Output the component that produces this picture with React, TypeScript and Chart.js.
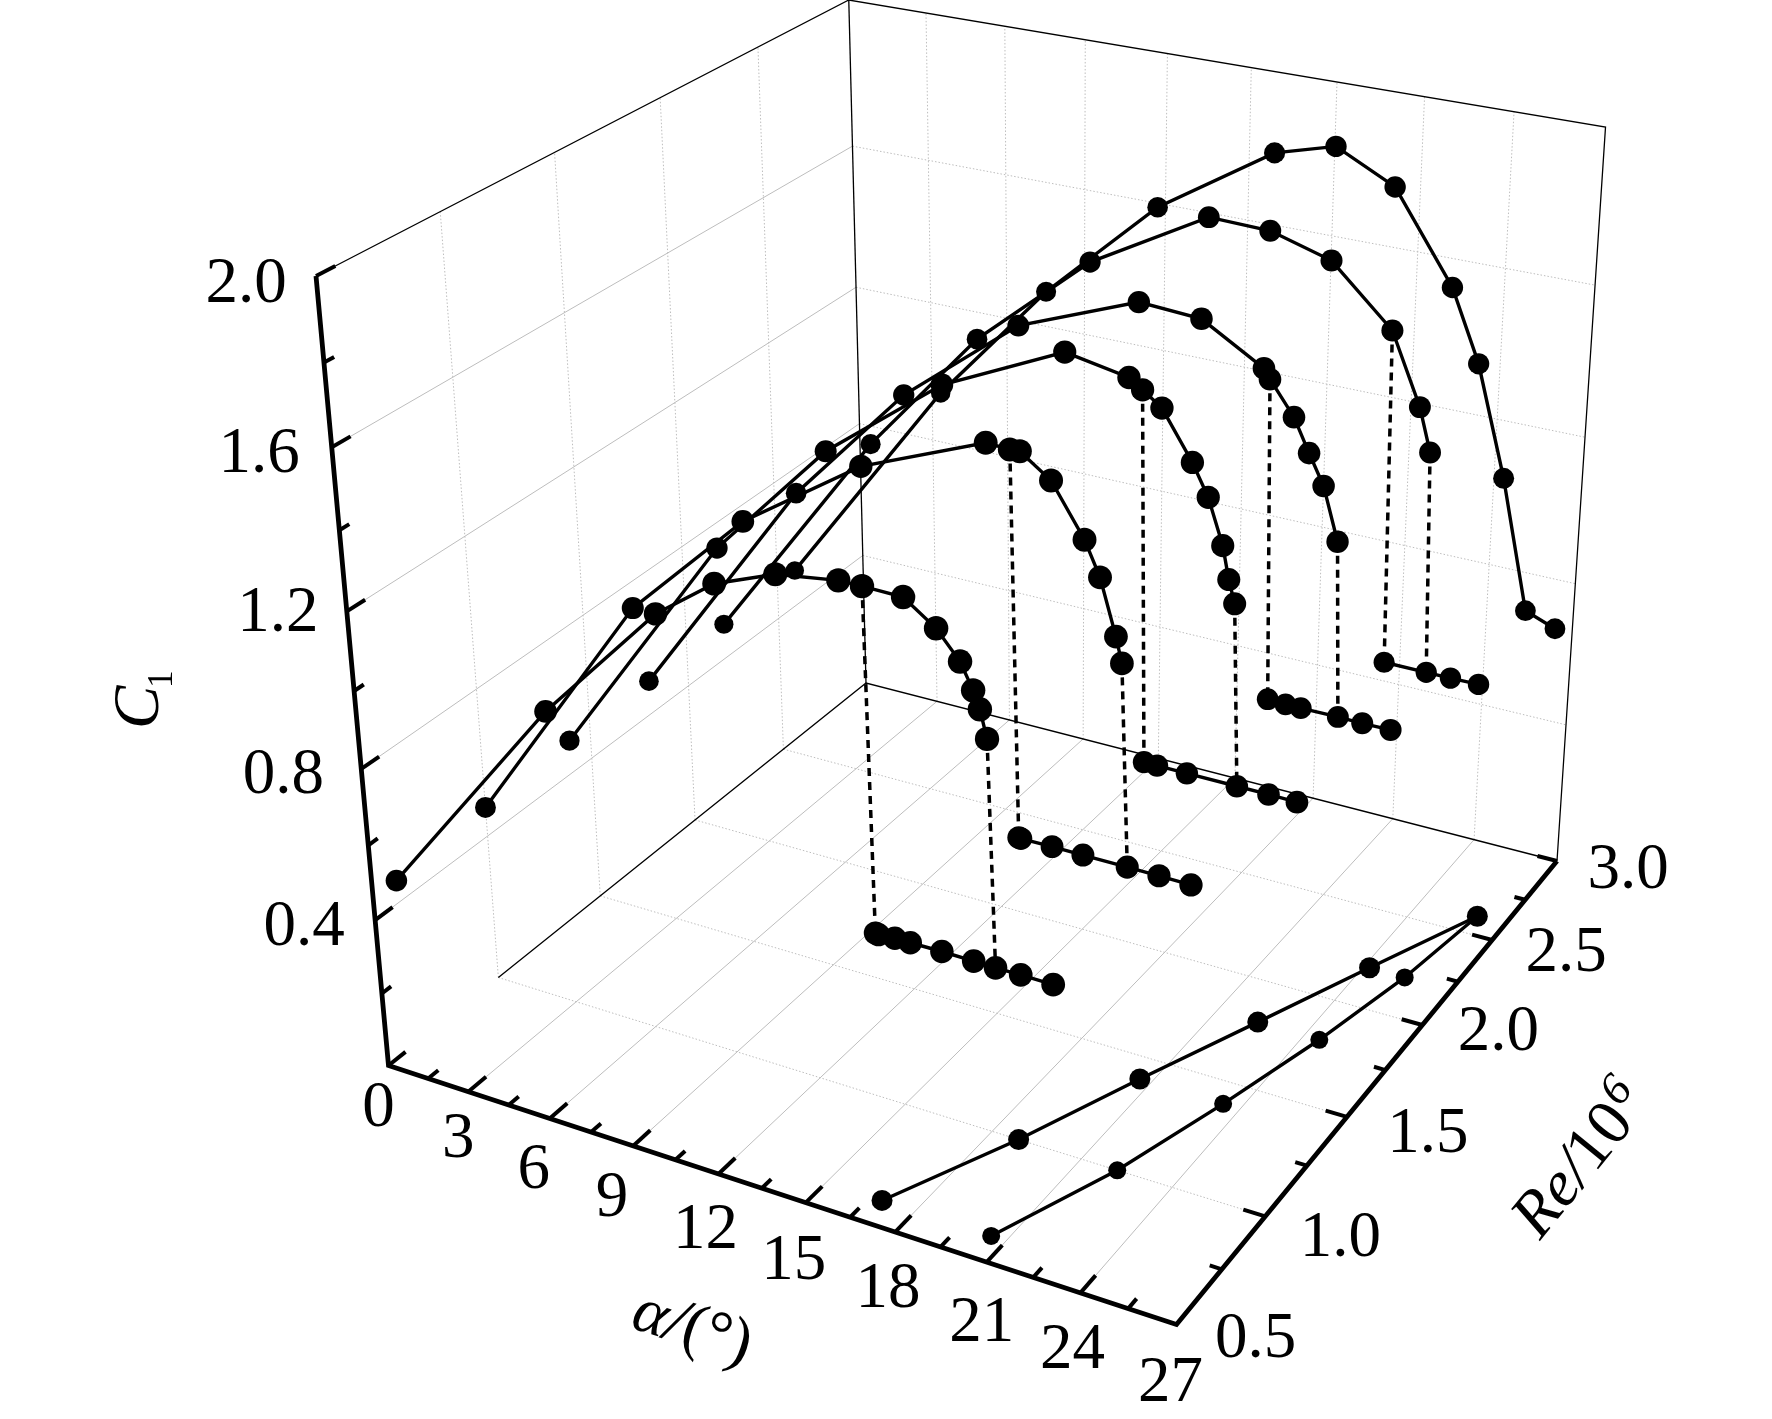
import React, { useEffect, useRef } from "react";
import { Chart, registerables } from "chart.js";
Chart.register(...registerables);

// ---------- data (α in degrees, Re/10^6, Cl) ----------
const RE = [0.6, 1.0, 1.4, 1.8, 2.2, 2.6];

const ALPHA_1 = [0, 6, 10, 12, 14, 16, 16.74, 18.01, 19.01, 19.73, 20.12, 20.32, 20.53];
const CL_1 = [0.46, 1.024, 1.339, 1.447, 1.505, 1.527, 1.527, 1.525, 1.472, 1.409, 1.35, 1.31, 1.245];
const ALPHA_2 = [0, 6, 10, 14, 18, 18.75, 19.06, 20.02, 21.05, 21.53, 22.03, 22.22];
const CL_2 = [0.479, 1.124, 1.411, 1.611, 1.732, 1.729, 1.73, 1.679, 1.56, 1.481, 1.351, 1.291];
const ALPHA_3 = [0, 6, 10, 14, 18, 20.03, 20.46, 21.07, 22.04, 22.55, 23.03, 23.24, 23.44];
const CL_3 = [0.492, 1.126, 1.441, 1.668, 1.808, 1.78, 1.758, 1.725, 1.613, 1.539, 1.432, 1.354, 1.299];
const ALPHA_4 = [0, 6, 10, 14, 18, 20.03, 22.05, 22.25, 23.04, 23.55, 24.04, 24.54];
const CL_4 = [0.495, 1.124, 1.446, 1.682, 1.799, 1.789, 1.701, 1.678, 1.599, 1.52, 1.448, 1.319];
const ALPHA_5 = [0, 6, 10, 14, 18, 20.03, 22.04, 24.07, 25.05, 25.44];
const CL_5 = [0.5, 1.115, 1.459, 1.716, 1.884, 1.879, 1.835, 1.694, 1.52, 1.413];
const ALPHA_6 = [0, 6, 10, 14, 18, 20.05, 22.05, 24.07, 25.05, 26.07, 27.04, 28.05];
const CL_6 = [0.505, 1.12, 1.458, 1.737, 1.929, 1.972, 1.898, 1.675, 1.496, 1.216, 0.881, 0.851];

const LOW_ALPHA_1 = [16.89, 16.99, 17.52, 18.02, 19.03, 20.04, 20.73, 21.52, 22.53];
const LOW_CL_1 = [0.697, 0.695, 0.698, 0.698, 0.699, 0.698, 0.697, 0.698, 0.697];
const LOW_ALPHA_2 = [18.96, 19.03, 20.04, 21.03, 22.44, 23.44, 24.44];
const LOW_CL_2 = [0.798, 0.797, 0.798, 0.798, 0.798, 0.798, 0.797];
const LOW_ALPHA_3 = [20.63, 21.06, 22.03, 23.64, 24.65, 25.55];
const LOW_CL_3 = [0.849, 0.849, 0.849, 0.849, 0.849, 0.848];
const LOW_ALPHA_4 = [22.45, 23.04, 23.54, 24.75, 25.54, 26.45];
const LOW_CL_4 = [0.88, 0.878, 0.878, 0.879, 0.878, 0.879];
const LOW_ALPHA_5 = [24.25, 25.65, 26.45, 27.37];
const LOW_CL_5 = [0.849, 0.849, 0.849, 0.85];

const STALL_START = [16.89, 18.9, 20.61, 22.41, 24.19, 26.01];
const STALL_END = [20.51, 22.2, 23.43, 24.52, 25.41, 26.01];

// which curve point / lower-branch point each dashed jump joins
const JUMPS = [
  [0, 6, 0], [0, 12, 6],
  [1, 5, 0], [1, 11, 4],
  [2, 6, 0], [2, 12, 3],
  [3, 7, 0], [3, 11, 3],
  [4, 7, 0], [4, 9, 1],
];

const ALPHA_LABELS = ["0", "3", "6", "9", "12", "15", "18", "21", "24", "27"];
const RE_LABELS = ["0.5", "1.0", "1.5", "2.0", "2.5", "3.0"];
const CL_LABELS = ["0.4", "0.8", "1.2", "1.6", "2.0"];

// ---------- perspective box ----------
const W = 1772, H = 1419;
const O = [388.5, 1065.5], AX = [1176.5, 1324.5], RX = [866, 683], ZX = [316, 276], CORNER = [1557, 861];
const A_MAX = 27, RE_MIN = 0.5, RE_SPAN = 2.5, CL_MAX = 2;
const det = (AX[0] - CORNER[0]) * (RX[1] - CORNER[1]) - (RX[0] - CORNER[0]) * (AX[1] - CORNER[1]);
const ua = ((O[0] - CORNER[0]) * (RX[1] - CORNER[1]) - (RX[0] - CORNER[0]) * (O[1] - CORNER[1])) / det;
const ur = ((AX[0] - CORNER[0]) * (O[1] - CORNER[1]) - (O[0] - CORNER[0]) * (AX[1] - CORNER[1])) / det;
const uz = (O[1] - ur * RX[1]) / ZX[1];
function depth(alpha: number, re: number, cl: number) {
  const a = alpha / A_MAX, b = (re - RE_MIN) / RE_SPAN, c = cl / CL_MAX;
  return 1 + a * (ua - 1) + b * (ur - 1) + c * (uz - 1);
}
function project(alpha: number, re: number, cl: number) {
  const a = alpha / A_MAX, b = (re - RE_MIN) / RE_SPAN, c = cl / CL_MAX;
  const w = depth(alpha, re, cl);
  const f = (i: number) =>
    (O[i] + a * (ua * AX[i] - O[i]) + b * (ur * RX[i] - O[i]) + c * (uz * ZX[i] - O[i])) / w;
  return { x: f(0), y: f(1) };
}

// ---------- datasets ----------
function line(points: number[][], color: string, width: number, dash: number[], order: number, cap: CanvasLineCap = "butt") {
  return {
    data: points.map((p) => project(p[0], p[1], p[2])),
    showLine: true, borderColor: color, borderWidth: width, borderDash: dash, borderCapStyle: cap, borderJoinStyle: "miter",
    pointRadius: 0, tension: 0, clip: false, order,
  };
}
function marks(points: number[][], radius: number | null, order: number) {
  return {
    data: points.map((p) => project(p[0], p[1], p[2])),
    showLine: true, borderColor: "#000", borderWidth: 3.4, tension: 0, clip: false, order,
    pointBackgroundColor: "#000", pointBorderWidth: 0,
    pointRadius: points.map((p) => radius ?? 10.6 / depth(p[0], p[1], p[2])),
  };
}
function buildDatasets() {
  const ds: any[] = [];
  const GRID = "#bdbdbd", DOT = [1.5, 2];
  const alphaGrid = [3, 6, 9, 12, 15, 18, 21, 24];
  const reGrid = [1, 1.5, 2, 2.5];
  const clGrid = [0.4, 0.8, 1.2, 1.6];
  alphaGrid.forEach((a) => {
    ds.push(line([[a, 0.5, 0], [a, 3, 0]], GRID, 1, [], 30));
    ds.push(line([[a, 3, 0], [a, 3, 2]], GRID, 1, DOT, 30));
  });
  reGrid.forEach((r) => {
    ds.push(line([[0, r, 0], [27, r, 0]], GRID, 1, DOT, 30));
    ds.push(line([[0, r, 0], [0, r, 2]], GRID, 1, DOT, 30));
  });
  clGrid.forEach((c) => {
    ds.push(line([[0, 0.5, c], [0, 3, c]], GRID, 1, [], 30));
    ds.push(line([[0, 3, c], [27, 3, c]], GRID, 1, DOT, 30));
  });
  // thin frame
  ds.push(line([[0, 0.5, 2], [0, 3, 2], [27, 3, 2], [27, 3, 0]], "#000", 1.3, [], 20));
  ds.push(line([[0, 3, 2], [0, 3, 0]], "#000", 1.3, [], 20));
  ds.push(line([[0, 1, 0], [0, 3, 0], [27, 3, 0]], "#000", 1.3, [], 20));
  // heavy axes
  ds.push(line([[0, 0.5, 2], [0, 0.5, 0], [27, 0.5, 0], [27, 3, 0]], "#000", 4.8, [], 10));
  for (let i = 0; i <= 10; i++) {
    const c = i * 0.2, major = i % 2 === 0;
    ds.push(line([[0, 0.5, c], [0, major ? 0.575 : 0.54, c]], "#000", 4, [], 10));
  }
  for (let i = 1; i < 18; i++) {
    const a = i * 1.5, major = i % 2 === 0;
    ds.push(line([[a, 0.5, 0], [a, major ? 0.58 : 0.545, 0]], "#000", 4, [], 10));
  }
  for (let i = 1; i <= 10; i++) {
    const r = 0.5 + i * 0.25, major = i % 2 === 0;
    ds.push(line([[27, r, 0], [major ? 26.3 : 26.62, r, 0]], "#000", 4, [], 10));
  }
  // curves
  const AL = [ALPHA_1, ALPHA_2, ALPHA_3, ALPHA_4, ALPHA_5, ALPHA_6];
  const CLS = [CL_1, CL_2, CL_3, CL_4, CL_5, CL_6];
  const LA = [LOW_ALPHA_1, LOW_ALPHA_2, LOW_ALPHA_3, LOW_ALPHA_4, LOW_ALPHA_5];
  const LC = [LOW_CL_1, LOW_CL_2, LOW_CL_3, LOW_CL_4, LOW_CL_5];
  JUMPS.forEach(([k, i, j]) => {
    ds.push(line([[AL[k][i], RE[k], CLS[k][i]], [LA[k][j], RE[k], LC[k][j]]], "#000", 3.5, [8, 6], 5));
  });
  AL.forEach((al, k) => ds.push(marks(al.map((a, i) => [a, RE[k], CLS[k][i]]), null, 6 - k)));
  LA.forEach((al, k) => ds.push(marks(al.map((a, i) => [a, RE[k], LC[k][i]]), null, 6 - k)));
  ds.push(marks(STALL_START.map((a, i) => [a, RE[i], 0]), 10.5, 1));
  ds.push(marks(STALL_END.map((a, i) => [a, RE[i], 0]), 9, 1));
  return ds;
}

// ---------- text ----------
const SERIF = '"Liberation Serif", serif';
const ALPHA_OFF = [[-10, 43], [-10, 48], [-16, 52], [-21, 53], [-13, 57], [-12, 59], [-7, 58], [-5, 62], [-8, 58], [-6, 59]];
const RE_OFF = [[79, 15], [75, 23], [81, 18], [76, 8], [74, 14], [71, 10]];
const CL_OFF = [[-71, 7.5], [-78, 7.5], [-69, 3], [-72.5, 7.5], [-70, 8.5]];
const textPlugin = {
  id: "boxText",
  afterDatasetsDraw(chart: any) {
    const ctx = chart.ctx;
    const px = (p: { x: number; y: number }) => ({ x: chart.scales.x.getPixelForValue(p.x), y: chart.scales.y.getPixelForValue(p.y) });
    ctx.save();
    ctx.fillStyle = "#000";
    ctx.textAlign = "center";
    ctx.textBaseline = "middle";
    ctx.font = `65px ${SERIF}`;
    ALPHA_LABELS.forEach((t, i) => {
      const p = px(project(Number(t), 0.5, 0));
      ctx.fillText(t, p.x + ALPHA_OFF[i][0], p.y + ALPHA_OFF[i][1]);
    });
    RE_LABELS.forEach((t, i) => {
      const p = px(project(27, Number(t), 0));
      ctx.fillText(t, p.x + RE_OFF[i][0], p.y + RE_OFF[i][1]);
    });
    CL_LABELS.forEach((t, i) => {
      const p = px(project(0, 0.5, Number(t)));
      ctx.fillText(t, p.x + CL_OFF[i][0], p.y + CL_OFF[i][1]);
    });
    ctx.textAlign = "left";
    ctx.textBaseline = "alphabetic";
    // C1 title
    ctx.save();
    ctx.translate(158, 729);
    ctx.rotate(-Math.PI / 2);
    ctx.font = `italic 65px ${SERIF}`;
    ctx.fillText("C", 0, 0);
    ctx.font = `35px ${SERIF}`;
    ctx.fillText("1", 41, 14);
    ctx.restore();
    // alpha title
    ctx.save();
    ctx.translate(629, 1327);
    ctx.rotate((18 * Math.PI) / 180);
    ctx.font = `italic 65px ${SERIF}`;
    ctx.fillText("α", 0, 0);
    let w = ctx.measureText("α").width;
    ctx.fillText("/", w, 0);
    w += ctx.measureText("/").width;
    ctx.font = `65px ${SERIF}`;
    ctx.fillText("(°)", w, 0);
    ctx.restore();
    // Re title
    ctx.save();
    ctx.translate(1540, 1241);
    ctx.rotate((-51 * Math.PI) / 180);
    ctx.font = `italic 65px ${SERIF}`;
    ctx.fillText("Re/", 0, 0);
    let v = ctx.measureText("Re/").width;
    ctx.font = `65px ${SERIF}`;
    ctx.fillText("10", v, 0);
    v += ctx.measureText("10").width;
    ctx.font = `italic 46px ${SERIF}`;
    ctx.fillText("6", v + 2, -22);
    ctx.restore();
    ctx.restore();
  },
};

export default function App() {
  const ref = useRef<HTMLCanvasElement>(null);
  useEffect(() => {
    const chart = new Chart(ref.current as HTMLCanvasElement, {
      type: "scatter",
      data: { datasets: buildDatasets() },
      options: {
        animation: false,
        responsive: false,
        events: [],
        layout: { padding: 0, autoPadding: false },
        plugins: { legend: { display: false }, tooltip: { enabled: false }, title: { display: false } },
        scales: {
          x: { type: "linear", min: 0, max: W, display: false },
          y: { type: "linear", min: 0, max: H, reverse: true, display: false },
        },
      },
      plugins: [textPlugin],
    } as any);
    return () => chart.destroy();
  }, []);
  return (
    <div style={{ position: "absolute", left: 0, top: 0, width: W, height: H, background: "#fff" }}>
      <canvas ref={ref} width={W} height={H} style={{ display: "block", width: W, height: H }} />
    </div>
  );
}
